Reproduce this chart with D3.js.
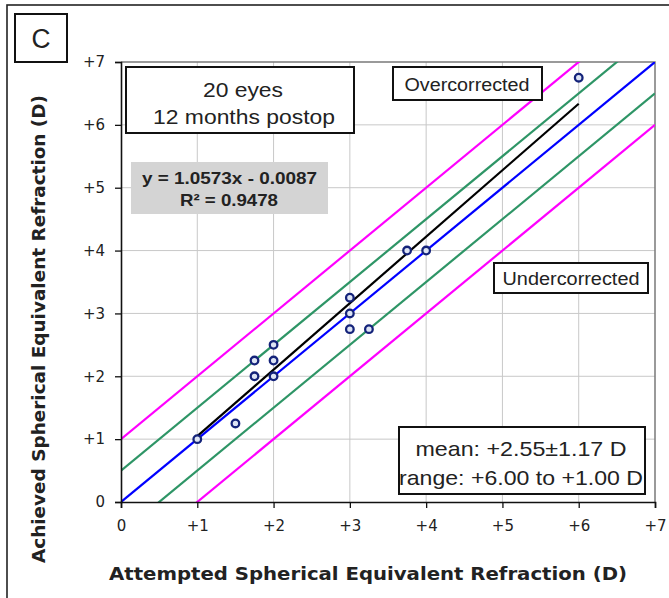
<!DOCTYPE html>
<html>
<head>
<meta charset="utf-8">
<script src="https://cdn.jsdelivr.net/npm/d3@7"></script>
<style>
  body { margin: 0; background: #fff; }
  svg { display: block; }
</style>
</head>
<body>
<div id="chart"></div>
<script>
// chart data
const attempted = [1, 1.5, 1.75, 1.75, 2, 2, 2, 3, 3, 3, 3.25, 3.75, 4, 6];
const achieved  = [1, 1.25, 2, 2.25, 2, 2.25, 2.5, 2.75, 3, 3.25, 2.75, 4, 4, 6.75];
const tickValues = [0, 1, 2, 3, 4, 5, 6, 7];
const refOffsets = [-1, -0.5, 0, 0.5, 1];
const refColors  = ['#ff00ff', '#2e9566', '#0000ff', '#2e9566', '#ff00ff'];
const fitSlope = 1.0573, fitIntercept = -0.0087, fitRange = [1, 6];
const infoLines = ['20 eyes', '12 months postop'];
const eqLines = ['y = 1.0573x - 0.0087', 'R\u00B2 = 0.9478'];
const statLines = ['mean: +2.55\u00B11.17 D', 'range: +6.00 to +1.00 D'];

const width = 669, height = 598;
const margin = {t: 62, r: 14, b: 96, l: 121};

const svg = d3.select('#chart').append('svg')
    .attr('width', width).attr('height', height);

// outer frame (runs off the right and bottom edge)
svg.append('rect')
    .attr('x', 7).attr('y', 5).attr('width', 700).attr('height', 700)
    .attr('fill', 'none').attr('stroke', '#222').attr('stroke-width', 1.6);

const x = d3.scaleLinear().domain([0, 7]).range([margin.l, width - margin.r]);
const y = d3.scaleLinear().domain([0, 7]).range([height - margin.b, margin.t]);

// gridlines
const grid = svg.append('g').attr('stroke', '#c8c8c8').attr('stroke-width', 1);
grid.selectAll('.gx').data(tickValues.slice(1, -1)).join('line')
    .attr('x1', d => x(d)).attr('x2', d => x(d))
    .attr('y1', y(0)).attr('y2', y(7));
grid.selectAll('.gy').data(tickValues.slice(1, -1)).join('line')
    .attr('y1', d => y(d)).attr('y2', d => y(d))
    .attr('x1', x(0)).attr('x2', x(7));

// plot border top / right
svg.append('path')
    .attr('d', `M${x(0)},${y(7)}H${x(7)}V${y(0)}`)
    .attr('fill', 'none').attr('stroke', '#7a7a7a').attr('stroke-width', 1.5);

// clip for reference lines
svg.append('clipPath').attr('id', 'plot')
    .append('rect').attr('x', x(0)).attr('y', y(7))
    .attr('width', x(7) - x(0)).attr('height', y(0) - y(7));

const lines = svg.append('g').attr('clip-path', 'url(#plot)');
lines.selectAll('.ref').data(refOffsets).join('line')
    .attr('x1', x(0)).attr('y1', d => y(d))
    .attr('x2', x(7)).attr('y2', d => y(7 + d))
    .attr('stroke', (d, i) => refColors[i]).attr('stroke-width', 2.2);

lines.append('line')
    .attr('x1', x(fitRange[0])).attr('y1', y(fitSlope * fitRange[0] + fitIntercept))
    .attr('x2', x(fitRange[1])).attr('y2', y(fitSlope * fitRange[1] + fitIntercept))
    .attr('stroke', '#000').attr('stroke-width', 2.2);

// axes
const fmt = d => d === 0 ? '0' : '+' + d;
const xAxis = svg.append('g')
    .attr('transform', `translate(0,${y(0)})`)
    .call(d3.axisBottom(x).tickValues(tickValues).tickFormat(fmt).tickSize(6).tickPadding(12));
const yAxis = svg.append('g')
    .attr('transform', `translate(${x(0)},0)`)
    .call(d3.axisLeft(y).tickValues(tickValues).tickFormat(fmt).tickSize(6).tickPadding(10));
[xAxis, yAxis].forEach(a => {
  a.select('.domain').attr('stroke', '#111').attr('stroke-width', 1.6);
  a.selectAll('.tick line').attr('stroke', '#111').attr('stroke-width', 1.3);
  a.selectAll('.tick text')
      .attr('font-family', '"DejaVu Sans", Verdana, sans-serif')
      .attr('font-size', 15).attr('fill', '#222');
});

// points
svg.append('g').selectAll('circle').data(attempted).join('circle')
    .attr('cx', d => x(d))
    .attr('cy', (d, i) => y(achieved[i]))
    .attr('r', 3.8)
    .attr('fill', '#dde4f4').attr('stroke', '#14237a').attr('stroke-width', 2.3);

// text boxes
function box(x0, y0, w, h, fill) {
  svg.append('rect').attr('x', x0).attr('y', y0).attr('width', w).attr('height', h)
      .attr('fill', fill || '#fff')
      .attr('stroke', fill ? 'none' : '#111').attr('stroke-width', 2);
}
function label(txt, cx, base, size, len, weight) {
  svg.append('text').attr('x', cx).attr('y', base)
      .attr('text-anchor', 'middle')
      .attr('font-family', '"Liberation Sans", Arial, sans-serif')
      .attr('font-size', size).attr('font-weight', weight || 'normal')
      .attr('fill', '#222')
      .attr('textLength', len).attr('lengthAdjust', 'spacingAndGlyphs')
      .text(txt);
}

box(15, 14, 52, 48);
label('C', 41, 48, 27, 19);

box(126, 67, 228, 66);
label(infoLines[0], 243, 97, 21, 80);
label(infoLines[1], 244, 124, 21, 182);

box(131, 162, 197, 52, '#d4d4d4');
label(eqLines[0], 229.5, 184, 16.5, 175, 'bold');
label(eqLines[1], 229, 206, 16.5, 98, 'bold');

box(393, 67, 149, 33);
label('Overcorrected', 467, 91, 18, 125);

box(494, 263, 154, 30);
label('Undercorrected', 571, 285, 18, 137);

box(399, 427, 246, 67);
label(statLines[0], 521, 456, 21, 211);
label(statLines[1], 521, 485, 21, 244);

// axis titles
svg.append('text')
    .attr('x', 368).attr('y', 580)
    .attr('text-anchor', 'middle')
    .attr('font-family', '"DejaVu Sans", Verdana, sans-serif')
    .attr('font-size', 17).attr('font-weight', 'bold').attr('fill', '#222')
    .attr('textLength', 518).attr('lengthAdjust', 'spacingAndGlyphs')
    .text('Attempted Spherical Equivalent Refraction (D)');

svg.append('text')
    .attr('transform', 'translate(45,329) rotate(-90)')
    .attr('text-anchor', 'middle')
    .attr('font-family', '"DejaVu Sans", Verdana, sans-serif')
    .attr('font-size', 17).attr('font-weight', 'bold').attr('fill', '#222')
    .attr('textLength', 468).attr('lengthAdjust', 'spacingAndGlyphs')
    .text('Achieved Spherical Equivalent Refraction (D)');
</script>
</body>
</html>
